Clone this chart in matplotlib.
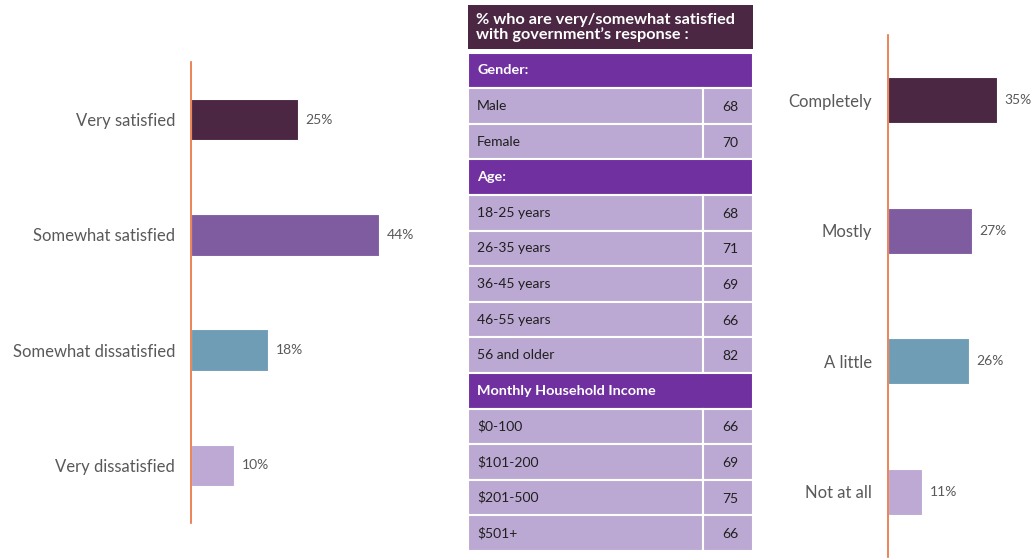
import matplotlib.pyplot as plt
from matplotlib.patches import Rectangle

plt.rcParams['font.family'] = ['Lato', 'DejaVu Sans']

# satisfaction with the response
sat_labels = ["Very satisfied", "Somewhat satisfied", "Somewhat dissatisfied", "Very dissatisfied"]
sat_values = [25, 44, 18, 10]

# trust / extent
ext_labels = ["Completely", "Mostly", "A little", "Not at all"]
ext_values = [35, 27, 26, 11]

bar_colors = ["#4B2744", "#7F5BA0", "#6F9DB6", "#BDA9D3"]

# table: (label, value) ; value None -> section row
table_title = "% who are very/somewhat satisfied\nwith government\u2019s response :"
table_rows = [
    ("Gender:", None),
    ("Male", 68),
    ("Female", 70),
    ("Age:", None),
    ("18-25 years", 68),
    ("26-35 years", 71),
    ("36-45 years", 69),
    ("46-55 years", 66),
    ("56 and older", 82),
    ("Monthly Household Income", None),
    ("$0-100", 66),
    ("$101-200", 69),
    ("$201-500", 75),
    ("$501+", 66),
]

W, H = 1031, 558
fig = plt.figure(figsize=(W / 100, H / 100), dpi=100)
axis_col = "#E8703A"
text_col = "#595959"


def bar_panel(rect, labels, values, xmax, height):
    ax = fig.add_axes(rect)
    y = range(len(labels))
    ax.barh(y, values, height=height, color=bar_colors, edgecolor="white", linewidth=0.8)
    ax.set_xlim(0, xmax)
    ax.set_ylim(len(labels) - 0.5, -0.5)
    for s in ["top", "right", "bottom"]:
        ax.spines[s].set_visible(False)
    ax.spines["left"].set_color(axis_col)
    ax.spines["left"].set_linewidth(1.2)
    ax.set_xticks([])
    ax.set_yticks(list(y))
    ax.set_yticklabels(labels, fontsize=12, color=text_col)
    ax.tick_params(axis="y", length=0, pad=11.5)
    for i, v in enumerate(values):
        ax.annotate(f"{v}%", (v, i), xytext=(5.5, 0), textcoords="offset points",
                    va="center", ha="left", fontsize=10, color=text_col)
    ax.patch.set_alpha(0)
    return ax


# left panel: axis at x=191px, 4.28 px per percent
bar_panel([191 / W, (H - 523) / H, 50 * 4.28 / W, 461 / H], sat_labels, sat_values, 50, 0.36)
# right panel: axis at x=888px, 3.11 px per percent
bar_panel([888 / W, (H - 557) / H, 45 * 3.11 / W, 522 / H], ext_labels, ext_values, 45, 0.35)

# middle table drawn in pixel units
tx0, tx1, tdiv = 468, 753, 703
tax = fig.add_axes([tx0 / W, (H - 552) / H, (tx1 - tx0) / W, (552 - 4) / H])
tax.set_xlim(tx0, tx1)
tax.set_ylim(552, 4)
tax.axis("off")

tax.add_patch(Rectangle((tx0, 5), tx1 - tx0, 44, facecolor="#4B2744", edgecolor="none"))
tax.text(tx0 + 8, 27.5, table_title, color="white", fontsize=11.7, fontweight="bold",
         va="center", ha="left", linespacing=1.0)

row_top, pitch = 52.5, 35.6
for i, (lab, val) in enumerate(table_rows):
    y0 = row_top + i * pitch
    if val is None:
        tax.add_patch(Rectangle((tx0, y0), tx1 - tx0, pitch, facecolor="#7030A0",
                                edgecolor="white", linewidth=1.5))
        tax.text(tx0 + 9, y0 + pitch / 2, lab, color="white", fontsize=10.4, fontweight="bold",
                 va="center", ha="left")
    else:
        tax.add_patch(Rectangle((tx0, y0), tdiv - tx0, pitch, facecolor="#BCA9D3",
                                edgecolor="white", linewidth=1.5))
        tax.add_patch(Rectangle((tdiv, y0), tx1 - tdiv, pitch, facecolor="#BCA9D3",
                                edgecolor="white", linewidth=1.5))
        tax.text(tx0 + 9, y0 + pitch / 2, lab, color="#1F1F1F", fontsize=10,
                 va="center", ha="left")
        tax.text((tdiv + tx1) / 2 + 2, y0 + pitch / 2 + 1, str(val), color="#1F1F1F",
                 fontsize=10, va="center", ha="center")

fig.savefig("out.png", dpi=100)
